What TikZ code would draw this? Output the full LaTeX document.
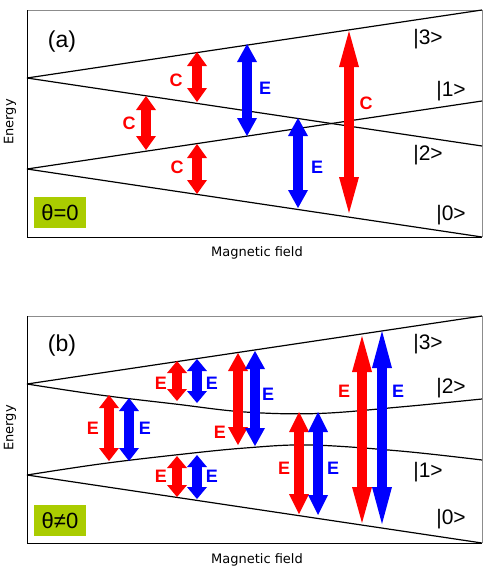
\documentclass[tikz,border=0pt]{standalone}
\usepackage{fontspec}
\setmainfont{Liberation Sans}
\newfontfamily\axisfont{DejaVu Sans}
\usetikzlibrary{arrows.meta}
\definecolor{thetagreen}{RGB}{170,204,0}
\definecolor{framegray}{RGB}{140,140,140}

\begin{document}
\begin{tikzpicture}[x=1pt,y=-1pt,line width=1pt,
    level/.style={line width=1.2pt,black},
    trans/.style={line width=10pt,
      {Triangle[length=#1,width=20pt,line width=0pt]}-{Triangle[length=#1,width=20pt,line width=0pt]}},
    trans/.default=14pt,
    ket/.style={font=\fontsize{21}{21}\selectfont,inner sep=0pt},
    tag/.style={font=\fontsize{18}{18}\selectfont\bfseries,inner sep=0pt},
    panel/.style={font=\fontsize{23}{23}\selectfont,inner sep=0pt},
    theta/.style={fill=thetagreen,minimum width=52pt,minimum height=31pt,
      inner sep=0pt,font=\fontsize{22}{22}\selectfont},
    axis/.style={font=\axisfont\fontsize{13}{13}\selectfont,inner sep=0pt}]
  \useasboundingbox (0,0) rectangle (490,573);

  % (a): theta = 0, levels cross
  \draw[framegray] (27,10) -- (482,10) -- (482,237);
  \draw (27,10) -- (27,237) -- (482,237);
  \draw[level] (27,78) -- (482,10);
  \draw[level] (27,78) -- (482,146);
  \draw[level] (27,169) -- (482,101);
  \draw[level] (27,169) -- (482,237);

  \draw[trans,red] (197,52) -- (197,102);
  \draw[trans,red] (146,96) -- (146,150);
  \draw[trans,red] (197,144) -- (197,194);
  \draw[trans=18pt,blue] (247,44) -- (247,136);
  \draw[trans=18pt,blue] (298,118) -- (298,208);
  \draw[trans=36pt,red] (349,31) -- (349,213);

  \node[tag,red] (ca1) at (176,80) {C};
  \node[tag,red] (ca2) at (129,123) {C};
  \node[tag,red] (ca3) at (177,167) {C};
  \node[tag,blue] (ea1) at (265,88) {E};
  \node[tag,blue] (ea2) at (317,167) {E};
  \node[tag,red] (ca4) at (366,103) {C};

  \node[ket] (a3) at (428,39) {|3>};
  \node[ket] (a1) at (451,91) {|1>};
  \node[ket] (a2) at (428,155) {|2>};
  \node[ket] (a0) at (451,215) {|0>};

  \node[panel] (pa) at (62,42) {(a)};
  \node[theta] (tha) at (60,212.5) {θ=0};
  \node[axis,rotate=90] (ya) at (10,122) {Energy};
  \node[axis] (xa) at (257,253) {Magnetic field};

  % (b): theta /= 0, avoided crossing
  \draw[framegray] (27,316) -- (482,316) -- (482,543);
  \draw (27,316) -- (27,543) -- (482,543);
  \draw[level] (27,384) -- (482,316);
  \draw[level] (27,475) -- (482,543);
  \draw[level] plot[smooth,tension=0.6] coordinates
    {(27,384) (100,395) (175,404) (245,412) (318,413.5) (400,407) (482,399)};
  \draw[level] plot[smooth,tension=0.6] coordinates
    {(27,475) (100,464) (175,455) (245,448) (310,445) (400,451) (482,460)};

  \draw[trans=13pt,red] (109,395) -- (109,461);
  \draw[trans=13pt,blue] (129,398) -- (129,461);
  \draw[trans=12pt,red] (177,361) -- (177,401);
  \draw[trans=12pt,blue] (197,359) -- (197,403);
  \draw[trans=12pt,red] (177,456) -- (177,497);
  \draw[trans=12pt,blue] (197,455) -- (197,499);
  \draw[trans=18pt,red] (238,353) -- (238,445);
  \draw[trans=18pt,blue] (255,351) -- (255,446);
  \draw[trans=20pt,red] (299,412) -- (299,514);
  \draw[trans=20pt,blue] (318,412) -- (318,515);
  \draw[trans=36pt,red] (362,336) -- (362,523);
  \draw[trans=37pt,blue] (382,331) -- (382,524);

  \node[tag,red] (eb1) at (93,428) {E};
  \node[tag,blue] (eb2) at (145,428) {E};
  \node[tag,red] (eb3) at (161,383) {E};
  \node[tag,blue] (eb4) at (212,383) {E};
  \node[tag,red] (eb5) at (161,476) {E};
  \node[tag,blue] (eb6) at (212,476) {E};
  \node[tag,red] (eb7) at (220,432) {E};
  \node[tag,blue] (eb8) at (268,394) {E};
  \node[tag,red] (eb9) at (284,468) {E};
  \node[tag,blue] (eb10) at (333,468) {E};
  \node[tag,red] (eb11) at (344,391) {E};
  \node[tag,blue] (eb12) at (398,391) {E};

  \node[ket] (b3) at (428,344) {|3>};
  \node[ket] (b2) at (451,388) {|2>};
  \node[ket] (b1) at (428,472) {|1>};
  \node[ket] (b0) at (451,519) {|0>};

  \node[panel] (pb) at (62,346) {(b)};
  \node[theta] (thb) at (60,520.5) {θ≠0};
  \node[axis,rotate=90] (yb) at (10,428) {Energy};
  \node[axis] (xb) at (257,560) {Magnetic field};
\end{tikzpicture}
\end{document}
